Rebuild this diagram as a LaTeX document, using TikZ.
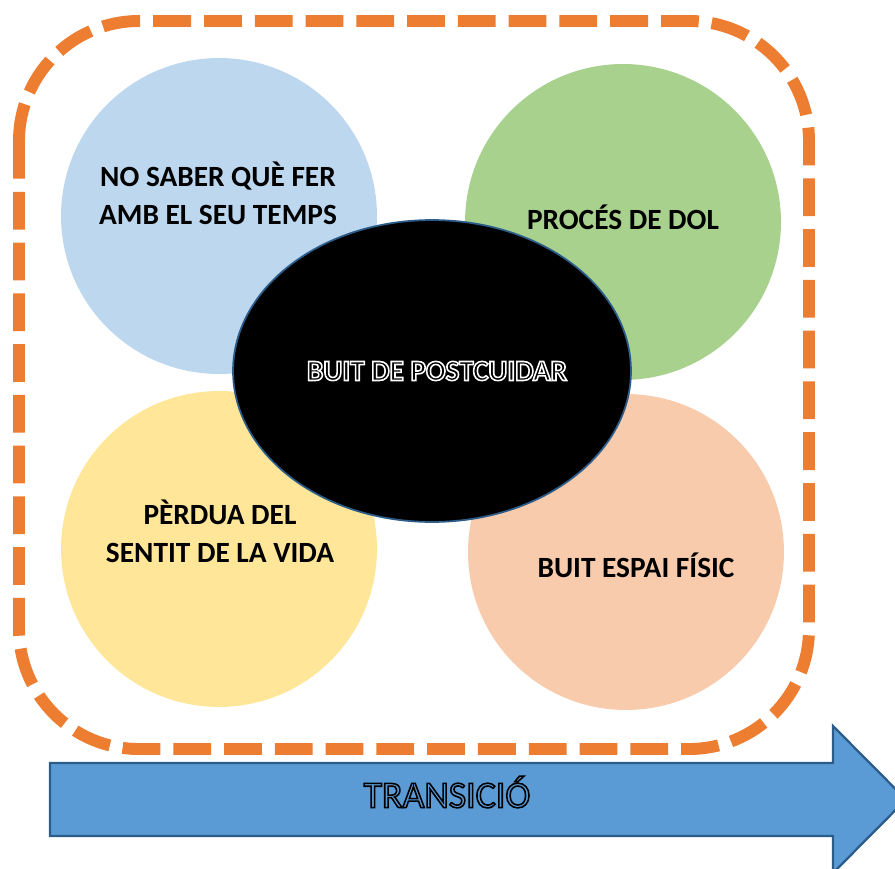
\documentclass[tikz,border=0pt]{standalone}
\usepackage{fontspec}
\setmainfont{Carlito}
\usepackage{tikz}
\usetikzlibrary{shapes,arrows,positioning}

\definecolor{frameorange}{HTML}{ED7D31}
\definecolor{skyblue}{HTML}{BDD7EE}
\definecolor{leafgreen}{HTML}{A9D18E}
\definecolor{sandyellow}{HTML}{FFE699}
\definecolor{peach}{HTML}{F8CBAD}
\definecolor{arrowblue}{HTML}{5B9BD5}
\definecolor{arrowedge}{HTML}{2B5C8A}

% outlined letters: fill with the current colour, stroke with #1
\newcommand{\hollowtext}[3]{{\color{#2}\special{pdf:code q 2 Tr #1 RG 0.9 w}#3\special{pdf:code Q}}}

\begin{document}
\begin{tikzpicture}[x=0.02cm, y=-0.02cm]
		\tikzstyle{Bubble}	= [circle, minimum size=6.32cm, inner sep=0pt]
		\tikzstyle{Core}	= [ellipse, draw=arrowedge, line width=1pt, fill=black, minimum width=7.96cm, minimum height=6.04cm, inner sep=0pt]
		\tikzstyle{Label}	= [align=center, font=\fontsize{16.7}{21.5}\selectfont\bfseries]
		\tikzstyle{Frame}	= [frameorange, line width=6.8pt, dash pattern=on 21.5pt off 7.4pt, rounded corners=2.4cm]

		\useasboundingbox (0, 0) rectangle (895, 868);

		\draw [Frame] (19, 21) rectangle (809, 749);

		\node (c1) at (219, 216) [Bubble, fill=skyblue]{};
		\node (c2) at (623, 222) [Bubble, fill=leafgreen]{};
		\node (c3) at (219, 549) [Bubble, fill=sandyellow]{};
		\node (c4) at (626, 552) [Bubble, fill=peach]{};
		\node (core) at (432, 371) [Core]{};

		\node (t1) at (218, 193) [Label]{NO SABER QUÈ FER\\AMB EL SEU TEMPS};
		\node (t2) at (623, 217) [Label]{PROCÉS DE DOL};
		\node (t3) at (220, 531) [Label]{PÈRDUA DEL\\SENTIT DE LA VIDA};
		\node (t4) at (636, 565) [Label]{BUIT ESPAI FÍSIC};
		\node (t5) at (437, 371) [Label, font=\fontsize{16.6}{20}\selectfont\bfseries]{\hollowtext{1 1 1}{black}{BUIT DE POSTCUIDAR}};

		\draw [arrowedge, fill=arrowblue, line width=1.3pt, line join=miter] (50, 763) -- (833, 763) -- (833, 726) -- (906, 799.5) -- (833, 873) -- (833, 836) -- (50, 836) -- cycle;
		\node (t6) at (447, 792) [font=\fontsize{21.5}{26}\selectfont]{\hollowtext{0 0 0}{arrowblue}{TRANSICIÓ}};
	\end{tikzpicture}
\end{document}
